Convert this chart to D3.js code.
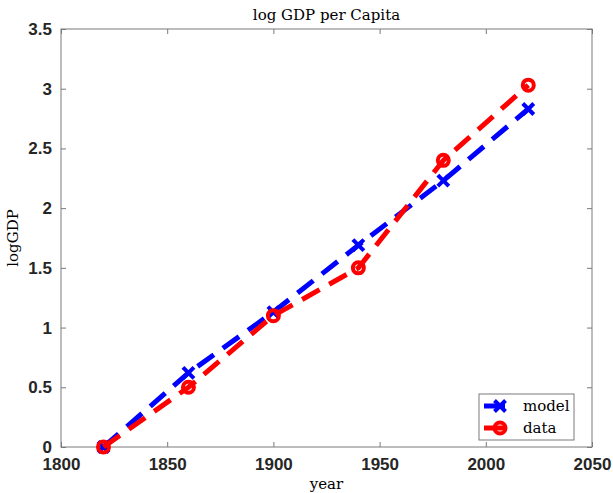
<!DOCTYPE html>
<html>
<head>
<meta charset="utf-8">
<script src="https://cdn.jsdelivr.net/npm/d3@7"></script>
<style>
  body { margin: 0; background: #fff; }
  svg { display: block; }
</style>
</head>
<body>
<div id="chart"></div>
<script>
// data
const years = [1820, 1860, 1900, 1940, 1980, 2020];
const model = [0, 0.62, 1.13, 1.69, 2.23, 2.83];
const data = [0, 0.5, 1.1, 1.5, 2.4, 3.03];
const xTicks = [1800, 1850, 1900, 1950, 2000, 2050];
const yTicks = [0, 0.5, 1, 1.5, 2, 2.5, 3, 3.5];

const width = 613;
const height = 493;
const margin = { top: 29, right: 21, bottom: 46, left: 61 };
const axisColor = '#7a7a7a';
const serif = '"DejaVu Serif", "Liberation Serif", serif';

const svg = d3
  .select('#chart')
  .append('svg')
  .attr('width', width)
  .attr('height', height);

const x = d3.scaleLinear().domain([1800, 2050]).range([margin.left, width - margin.right]);
const y = d3.scaleLinear().domain([0, 3.5]).range([height - margin.bottom, margin.top]);

// axes, MATLAB style: ticks inside, box all round
const tickStyle = (g) => {
  g.attr('font-family', 'Liberation Sans, Arimo, Arial, sans-serif');
  g.select('.domain').remove();
  g.selectAll('line').attr('stroke', axisColor);
  g.selectAll('text')
    .attr('fill', '#262626')
    .style('font-weight', 'bold')
    .style('font-size', '17px');
};

svg.append('g')
  .attr('transform', `translate(0,${height - margin.bottom})`)
  .call(d3.axisBottom(x).tickValues(xTicks).tickFormat(d3.format('d')).tickSizeInner(-5).tickSizeOuter(0).tickPadding(11))
  .call(tickStyle);

svg.append('g')
  .attr('transform', `translate(0,${margin.top})`)
  .call(d3.axisTop(x).tickValues(xTicks).tickFormat('').tickSizeInner(-5).tickSizeOuter(0))
  .call(tickStyle);

svg.append('g')
  .attr('transform', `translate(${margin.left},0)`)
  .call(d3.axisLeft(y).tickValues(yTicks).tickFormat((d) => d).tickSizeInner(-5).tickSizeOuter(0).tickPadding(9))
  .call(tickStyle);

svg.append('g')
  .attr('transform', `translate(${width - margin.right},0)`)
  .call(d3.axisRight(y).tickValues(yTicks).tickFormat('').tickSizeInner(-5).tickSizeOuter(0))
  .call(tickStyle);

svg.append('rect')
  .attr('x', margin.left)
  .attr('y', margin.top)
  .attr('width', width - margin.left - margin.right)
  .attr('height', height - margin.top - margin.bottom)
  .attr('fill', 'none')
  .attr('stroke', axisColor)
  .attr('stroke-width', 1);

// series
const series = [
  { name: 'model', values: model, color: '#0000ff', marker: 'x' },
  { name: 'data', values: data, color: '#ff0000', marker: 'o' },
];

const line = d3.line().x((d) => x(d[0])).y((d) => y(d[1]));

function drawMarker(g, type, color, cx, cy) {
  if (type === 'x') {
    const s = 5.5;
    g.append('path')
      .attr('d', `M${cx - s},${cy - s}L${cx + s},${cy + s}M${cx - s},${cy + s}L${cx + s},${cy - s}`)
      .attr('stroke', color)
      .attr('stroke-width', 4)
      .attr('fill', 'none');
  } else {
    g.append('circle')
      .attr('cx', cx)
      .attr('cy', cy)
      .attr('r', 5.5)
      .attr('stroke', color)
      .attr('stroke-width', 4)
      .attr('fill', 'none');
  }
}

series.forEach((s) => {
  const pts = years.map((yr, i) => [yr, s.values[i]]);
  svg.append('path')
    .datum(pts)
    .attr('d', line)
    .attr('fill', 'none')
    .attr('stroke', s.color)
    .attr('stroke-width', 5)
    .attr('stroke-dasharray', '20,11');
  const mg = svg.append('g');
  pts.forEach((p) => drawMarker(mg, s.marker, s.color, x(p[0]), y(p[1])));
});

// title and labels
svg.append('text')
  .attr('x', (margin.left + width - margin.right) / 2)
  .attr('y', 20)
  .attr('text-anchor', 'middle')
  .style('font-family', serif)
  .style('font-size', '15px')
  .text('log GDP per Capita');

svg.append('text')
  .attr('x', (margin.left + width - margin.right) / 2)
  .attr('y', 489)
  .attr('text-anchor', 'middle')
  .style('font-family', serif)
  .style('font-size', '15px')
  .text('year');

svg.append('text')
  .attr('transform', `translate(18,${(margin.top + height - margin.bottom) / 2}) rotate(-90)`)
  .attr('text-anchor', 'middle')
  .style('font-family', serif)
  .style('font-size', '15px')
  .text('logGDP');

// legend
const legend = svg.append('g').attr('transform', 'translate(479,394)');
legend.append('rect')
  .attr('width', 95)
  .attr('height', 46)
  .attr('fill', '#fff')
  .attr('stroke', axisColor);

series.forEach((s, i) => {
  const ly = 12 + i * 22;
  legend.append('line')
    .attr('x1', 5)
    .attr('x2', 26)
    .attr('y1', ly)
    .attr('y2', ly)
    .attr('stroke', s.color)
    .attr('stroke-width', 5);
  drawMarker(legend, s.marker, s.color, 21, ly);
  legend.append('text')
    .attr('x', 44)
    .attr('y', ly + 5)
    .style('font-family', serif)
    .style('font-size', '15px')
    .text(s.name);
});
</script>
</body>
</html>
